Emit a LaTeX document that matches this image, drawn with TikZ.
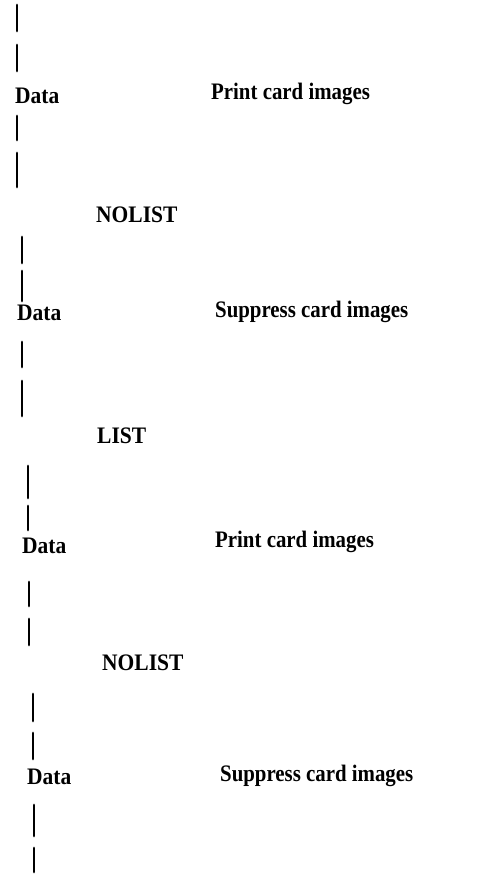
\documentclass[tikz,border=0pt]{standalone}
\usepackage{fontspec}
\setmainfont{Liberation Serif}
\begin{document}
\begin{tikzpicture}[x=1pt,y=-1pt,
  bar/.style={line width=2.8pt,line cap=round},
  lbl/.style={anchor=base west,inner sep=0pt,font=\fontsize{21.5}{25}\selectfont\bfseries,yscale=1.1},
  rlbl/.style={anchor=base west,inner sep=0pt,font=\fontsize{21.5}{25}\selectfont\bfseries,yscale=1.1,xscale=0.97}]
\useasboundingbox (0,0) rectangle (490,878);
% block 1
\draw[bar] (17,5) -- (17,31);
\draw[bar] (17,45) -- (17,71);
\node[lbl] (d1) at (15,103) {Data};
\node[rlbl] (p1) at (211,99) {Print card images};
\draw[bar] (17,116) -- (17,140);
\draw[bar] (17,153) -- (17,187);
\node[lbl] (n1) at (96,222) {NOLIST};
% block 2
\draw[bar] (22,237) -- (22,263);
\draw[bar] (22,271) -- (22,301);
\node[lbl] (d2) at (17,320) {Data};
\node[rlbl] (s1) at (215,317) {Suppress card images};
\draw[bar] (22,342) -- (22,367);
\draw[bar] (22,381) -- (22,416);
\node[lbl] (l1) at (97,443) {LIST};
% block 3
\draw[bar] (28,466) -- (28,498);
\draw[bar] (28,506) -- (28,530);
\node[lbl] (d3) at (22,553) {Data};
\node[rlbl] (p2) at (215,547) {Print card images};
\draw[bar] (29,582) -- (29,606);
\draw[bar] (29,619) -- (29,645);
\node[lbl] (n2) at (102,670) {NOLIST};
% block 4
\draw[bar] (33,694) -- (33,721);
\draw[bar] (33,733) -- (33,759);
\node[lbl] (d4) at (27,784) {Data};
\node[rlbl] (s2) at (220,781) {Suppress card images};
\draw[bar] (34,805) -- (34,836);
\draw[bar] (34,848) -- (34,872);
\end{tikzpicture}
\end{document}
